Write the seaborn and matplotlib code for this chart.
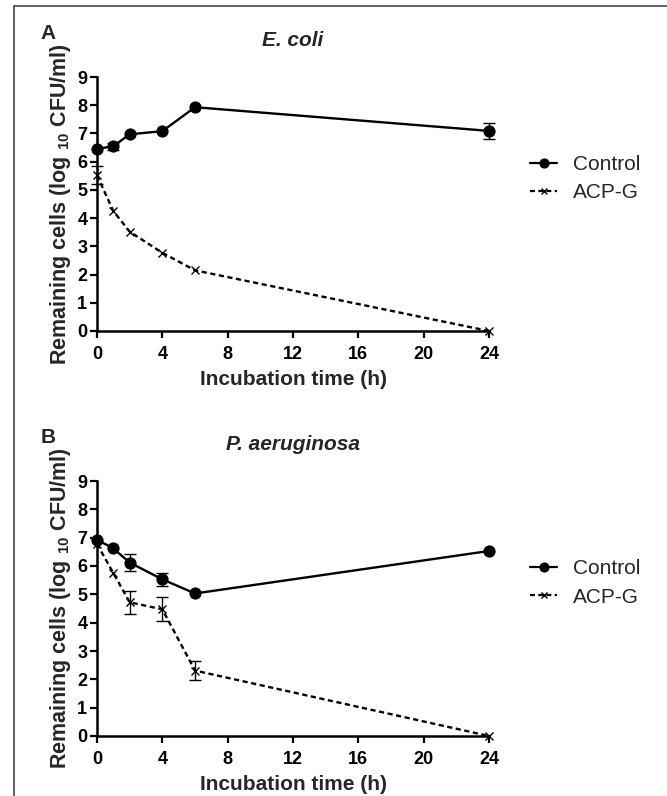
import numpy as np
import pandas as pd
import matplotlib
matplotlib.use("Agg")
import matplotlib.pyplot as plt
from matplotlib.lines import Line2D
import seaborn as sns

# ---- data ----
time_h = [0, 1, 2, 4, 6, 24]
groups = ["Control", "ACP-G"]

ecoli_control = [6.45, 6.55, 6.97, 7.08, 7.93, 7.09]
ecoli_control_err = [0.0, 0.12, 0.0, 0.0, 0.0, 0.27]
ecoli_acpg = [5.52, 4.25, 3.52, 2.77, 2.15, 0.0]
ecoli_acpg_err = [0.32, 0.0, 0.0, 0.0, 0.0, 0.0]

pa_control = [6.93, 6.62, 6.12, 5.53, 5.03, 6.53]
pa_control_err = [0.0, 0.0, 0.30, 0.22, 0.0, 0.0]
pa_acpg = [6.78, 5.75, 4.72, 4.47, 2.31, 0.0]
pa_acpg_err = [0.0, 0.0, 0.41, 0.42, 0.35, 0.0]

x_ticks = [0, 4, 8, 12, 16, 20, 24]
y_ticks = list(range(0, 10))

sns.set_theme(style="ticks")
plt.rcParams["font.family"] = ["Liberation Sans", "DejaVu Sans"]
plt.rcParams["mathtext.default"] = "regular"

W, H = 667, 796
fig = plt.figure(figsize=(W / 100, H / 100), dpi=100)

def frac(l, t, r, b):
    return [l / W, 1 - b / H, (r - l) / W, (b - t) / H]

ax_a = fig.add_axes(frac(97, 77, 489, 331))
ax_b = fig.add_axes(frac(97, 481, 489, 736))

def make_df(ctrl, ctrl_e, acp, acp_e):
    return pd.DataFrame({
        "time": time_h * 2,
        "value": ctrl + acp,
        "err": ctrl_e + acp_e,
        "group": ["Control"] * len(time_h) + ["ACP-G"] * len(time_h),
    })

styles = {
    "Control": dict(marker="o", linestyle="-", markersize=8, markeredgewidth=0.8),
    "ACP-G": dict(marker="x", linestyle=(0, (2.2, 1.5)), markersize=5.5, markeredgewidth=1.0),
}

panels = [
    (ax_a, make_df(ecoli_control, ecoli_control_err, ecoli_acpg, ecoli_acpg_err), "E. coli", "A"),
    (ax_b, make_df(pa_control, pa_control_err, pa_acpg, pa_acpg_err), "P. aeruginosa", "B"),
]

for ax, df, title, letter in panels:
    for g in groups:
        sub = df[df["group"] == g]
        sns.lineplot(data=sub, x="time", y="value", color="black",
                     linewidth=1.7, markeredgecolor="black", ax=ax,
                     errorbar=None, label=g, **styles[g])
        sub_e = sub[sub["err"] > 0]
        ax.errorbar(sub_e["time"], sub_e["value"], yerr=sub_e["err"], fmt="none",
                    ecolor="black", elinewidth=1.0, capsize=4, capthick=1.0)
    for ln in ax.lines:
        ln.set_clip_on(False)
    for c in ax.collections:
        c.set_clip_on(False)

    ax.set_xlim(0, 24)
    ax.set_ylim(0, 9)
    ax.set_xticks(x_ticks)
    ax.set_yticks(y_ticks)
    for s in ["top", "right"]:
        ax.spines[s].set_visible(False)
    for s in ["left", "bottom"]:
        ax.spines[s].set_linewidth(1.8)
        ax.spines[s].set_color("black")
    ax.tick_params(axis="both", width=1.6, length=5, labelsize=13, colors="black")
    ax.tick_params(axis="x", pad=6)
    ax.tick_params(axis="y", pad=2)
    for lab in ax.get_xticklabels() + ax.get_yticklabels():
        lab.set_fontweight("bold")
    ax.set_xlabel("Incubation time (h)", fontsize=15, fontweight="bold", labelpad=5)
    ax.set_ylabel("Remaining cells (log $_{10}$ CFU/ml)", fontsize=15.5,
                  fontweight="bold", labelpad=3)
    ax.set_title(title, fontsize=15, fontweight="bold", style="italic", pad=22)
    ax.text(-0.145, 1.17, letter, transform=ax.transAxes, fontsize=15,
            fontweight="bold", ha="left", va="center")

    handles = [Line2D([], [], color="black", lw=1.6, **styles[g]) for g in groups]
    handles[0].set_markersize(6.5)
    handles[1].set_markersize(4.5)
    ax.legend(handles, groups, loc="center left", bbox_to_anchor=(1.105, 0.60),
              frameon=False, fontsize=15, handlelength=1.3, handletextpad=0.77,
              labelspacing=0.45, borderpad=0, borderaxespad=0)

# frame lines (top and left)
fig.add_artist(Line2D([14 / W, 1], [1 - 6 / H, 1 - 6 / H], color="#555555", lw=1.3))
fig.add_artist(Line2D([14 / W, 14 / W], [1 - 6 / H, 0], color="#555555", lw=1.3))

fig.savefig("out.png", dpi=100)
